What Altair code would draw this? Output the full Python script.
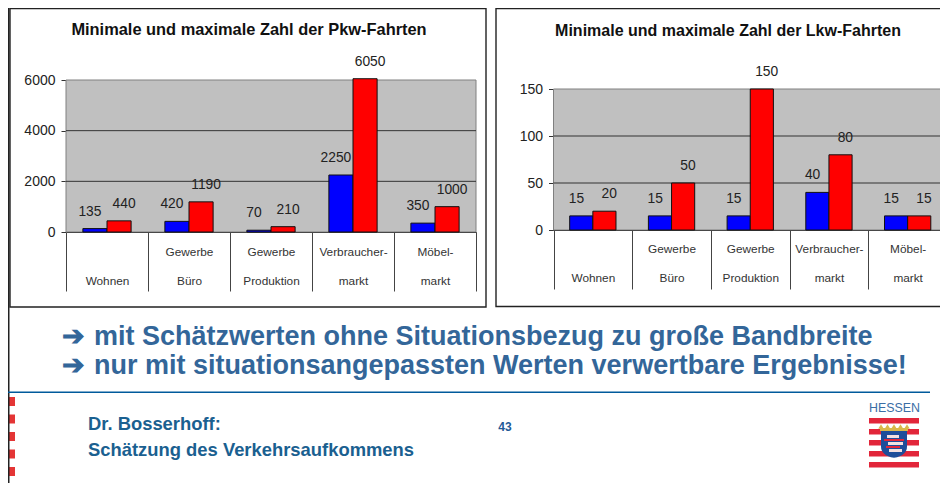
import altair as alt
import pandas as pd

categories = ["Wohnen", "Gewerbe|Büro", "Gewerbe|Produktion", "Verbraucher-|markt", "Möbel-|markt"]
pkw_min = [135, 420, 70, 2250, 350]
pkw_max = [440, 1190, 210, 6050, 1000]
lkw_min = [15, 15, 15, 40, 15]
lkw_max = [20, 50, 150, 80, 15]
pkw_ticks = [0, 2000, 4000, 6000]
lkw_ticks = [0, 50, 100, 150]
title_pkw = "Minimale und maximale Zahl der Pkw-Fahrten"
title_lkw = "Minimale und maximale Zahl der Lkw-Fahrten"
arrow = "➔"
line_1 = "mit Schätzwerten ohne Situationsbezug zu große Bandbreite"
line_2 = "nur mit situationsangepassten Werten verwertbare Ergebnisse!"
footer_1 = "Dr. Bosserhoff:"
footer_2 = "Schätzung des Verkehrsaufkommens"
page_no = "43"
logo_word = "HESSEN"
red_marks = [0, 1, 2, 3, 4]
logo_stripes = [0, 1, 2, 3, 4]
crown_points = [0, 1, 2, 3, 4]

FONT = "Liberation Sans"
W, H = 932, 475
OX, OY = 8, 8   # page margin


def px(v):
    return v - OX


def py(v):
    return v - OY


def dummy():
    return alt.Data(values=[{"a": 1}])


def box(x0, y0, x1, y1, stroke="#222222", sw=1.4):
    return alt.Chart(dummy()).mark_rect(fill="transparent", stroke=stroke, strokeWidth=sw).encode(
        x=alt.value(px(x0)), x2=alt.value(px(x1)), y=alt.value(py(y0)), y2=alt.value(py(y1)))


def fill(x0, y0, x1, y1, color):
    return alt.Chart(dummy()).mark_rect(fill=color).encode(
        x=alt.value(px(x0)), x2=alt.value(px(x1)), y=alt.value(py(y0)), y2=alt.value(py(y1)))


def text(s, x, y, size, color, bold=True, align="left"):
    return alt.Chart(dummy()).mark_text(
        text=s, font=FONT, fontSize=size, color=color, align=align, baseline="middle",
        fontWeight="bold" if bold else "normal").encode(x=alt.value(px(x)), y=alt.value(py(y)))


def panel(mins, maxs, ticks, ymax, x0, x1, y0, y1, ybottom, row1):
    df = pd.DataFrame({
        "cat": categories * 2,
        "series": ["min"] * 5 + ["max"] * 5,
        "value": mins + maxs,
    })
    xs = alt.Scale(domain=categories, range=[px(x0), px(x1)], paddingInner=0, paddingOuter=0)
    ys = alt.Scale(domain=[0, ymax], range=[py(y0), py(y1)], nice=False)
    off = alt.Scale(domain=["min", "max"], paddingInner=0, paddingOuter=0.7)
    xaxis = alt.Axis(
        title=None, orient="bottom", offset=py(y0) - H, domainColor="#111111", domainWidth=1.2,
        tickBand="extent", tickSize=ybottom - y0, tickColor="#444444", tickWidth=1,
        labelAngle=0, labelFont=FONT, labelFontSize=11.8, labelColor="#333333",
        labelBaseline="middle", labelPadding=-(ybottom - y0) + row1, labelLineHeight=29,
        labelExpr="indexof(datum.label, '|') < 0 ? [' ', datum.label] : split(datum.label, '|')",
    )
    yaxis = alt.Axis(
        title=None, orient="left", values=ticks, offset=-px(x0), grid=False, domainColor="#444444",
        tickColor="#333333", tickSize=5, tickWidth=1, labelFont=FONT, labelFontSize=14,
        labelColor="#222222", labelPadding=6, format="d",
    )
    bg = alt.Chart(dummy()).mark_rect(fill="#C0C0C0", stroke="#808080", strokeWidth=1).encode(
        x=alt.value(px(x0)), x2=alt.value(px(x1)), y=alt.value(py(y1)), y2=alt.value(py(y0)))
    grid = alt.Chart(pd.DataFrame({"t": [t for t in ticks if t not in (0, ymax)]})).mark_rule(
        color="#333333", strokeWidth=1).encode(
        y=alt.Y("t:Q", scale=ys, axis=None), x=alt.value(px(x0)), x2=alt.value(px(x1)))
    bars = alt.Chart(df).mark_bar(stroke="#111111", strokeWidth=1).encode(
        x=alt.X("cat:N", sort=categories, scale=xs, axis=xaxis),
        xOffset=alt.XOffset("series:N", sort=["min", "max"], scale=off),
        y=alt.Y("value:Q", scale=ys, axis=yaxis),
        color=alt.Color("series:N", scale=alt.Scale(domain=["min", "max"], range=["#0000FF", "#FF0000"]),
                        legend=None),
    )
    labels = alt.Chart(df).mark_text(font=FONT, fontSize=13.8, color="#222222", dy=-17, baseline="middle").encode(
        x=alt.X("cat:N", sort=categories, scale=xs, axis=None),
        xOffset=alt.XOffset("series:N", sort=["min", "max"], scale=off),
        y=alt.Y("value:Q", scale=ys, axis=None),
        text="value:Q",
    )
    return [bg, grid, bars, labels]


logo_layers = [fill(869, 418 + 11 * i, 919, 423.5 + 11 * i, "#E2263A") for i in logo_stripes]
logo_layers += [
    alt.Chart(dummy()).mark_point(
        filled=True, fill="#1E4E9A", opacity=1, size=1056,
        shape="M-0.8,-0.8 L0.8,-0.8 L0.8,0.15 Q0.8,0.7 0,0.85 Q-0.8,0.7 -0.8,0.15 Z",
    ).encode(x=alt.value(px(894)), y=alt.value(py(444))),
    fill(887, 435, 899, 438, "#F4E0E0"),
    fill(884, 439, 904, 441, "#E2263A"),
    fill(888, 442, 903, 445, "#F4E0E0"),
    fill(886, 446, 900, 448, "#E2263A"),
    fill(889, 449, 902, 452, "#F4E0E0"),
    fill(880, 428, 908, 431, "#D9B84A"),
    *[alt.Chart(dummy()).mark_point(filled=True, fill="#D9B84A", opacity=1, size=30, shape="triangle-up").encode(
        x=alt.value(px(881 + 6.5 * i)), y=alt.value(py(426.5))) for i in crown_points],
    text(logo_word, 869, 408, 12.4, "#3A6EA5", bold=False),
]
red_layers = [fill(6, 397 + 17.5 * i, 15, 406 + 17.5 * i, "#E43535") for i in red_marks]

chart = alt.layer(
    box(10, 8.5, 486, 307),
    box(496, 8.5, 950, 306.5),
    *red_layers,
    fill(8, 8, 9.5, 483, "#222222"),
    *panel(pkw_min, pkw_max, pkw_ticks, 6000, 66, 476, 232, 80, 291, 19),
    *panel(lkw_min, lkw_max, lkw_ticks, 150, 553.5, 947, 230, 89, 289, 18),
    text(title_pkw, 249, 30, 16.4, "#111111", align="center"),
    text(title_lkw, 728, 31, 16, "#111111", align="center"),
    text(arrow, 62, 337, 27, "#336699"),
    text(arrow, 62, 366, 27, "#336699"),
    text(line_1, 94, 337, 27, "#336699"),
    text(line_2, 94, 366, 27, "#336699"),
    fill(8, 391.5, 930, 393, "#005A9C"),
    text(footer_1, 88, 423.5, 18.4, "#1A6090"),
    text(footer_2, 88, 449.5, 18.4, "#1A6090"),
    text(page_no, 505, 426.5, 12, "#1F5A96", align="center"),
    *logo_layers,
).resolve_scale(x="independent", y="independent", color="independent", xOffset="independent").resolve_axis(
    x="independent", y="independent"
).properties(
    width=W, height=H, padding=0, autosize=alt.AutoSizeParams(type="none"), background="white",
).configure_view(stroke=None)

chart.save("out.html", embed_options={"renderer": "svg", "actions": False})
